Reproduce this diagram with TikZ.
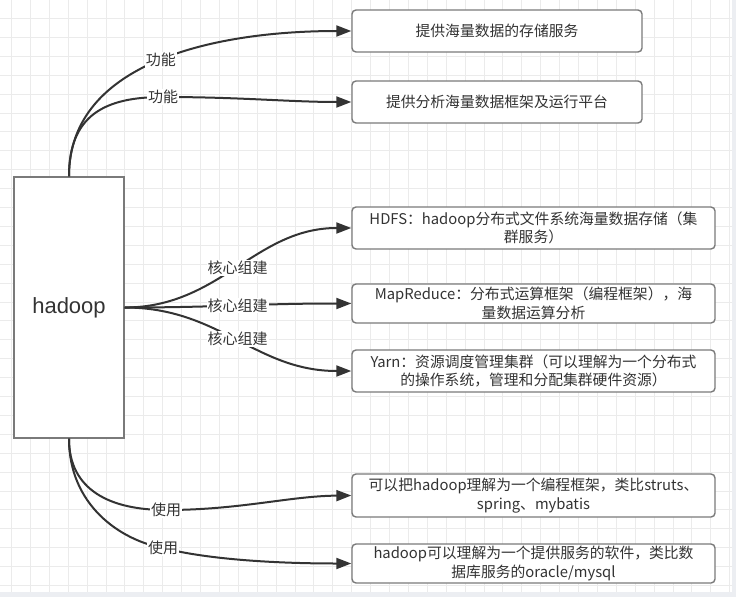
\documentclass[tikz,border=0pt]{standalone}
\usepackage{fontspec}
\setmainfont{Noto Sans CJK SC}
\newfontfamily\latinfont{Liberation Sans}
\usetikzlibrary{arrows.meta}

\definecolor{gridgray}{HTML}{EBEBEB}
\definecolor{boxgray}{HTML}{7A7A7A}
\definecolor{inkgray}{HTML}{333333}
\definecolor{edgegray}{HTML}{ECEEF2}

\begin{document}
\begin{tikzpicture}[x=1pt,y=-1pt,>={Triangle[length=15pt,width=11pt]},
  mainbox/.style={draw=boxgray,line width=1.4pt,fill=white,inner sep=0pt,
    minimum width=110pt,minimum height=261pt,text=inkgray,
    font=\latinfont\fontsize{22}{26}\selectfont},
  infobox/.style={draw=boxgray,line width=1.4pt,fill=white,rounded corners=4pt,
    inner sep=0pt,align=center,text=inkgray,
    font=\fontsize{14.8}{18.5}\selectfont},
  conn/.style={->,draw=inkgray,line width=2pt},
  lbl/.style={fill=white,inner sep=1pt,text=inkgray,font=\fontsize{15}{17}\selectfont}]

\useasboundingbox (0,0) rectangle (736,597);

% The grid
\fill[white] (0,0) rectangle (736,597);
\foreach \gx in {0,...,38}
{
	\draw[gridgray,line width=1pt] (11.5+\gx*18.9,0) -- (11.5+\gx*18.9,597);
}
\foreach \gy in {0,...,31}
{
	\draw[gridgray,line width=1pt] (0,18.5+\gy*18.9) -- (736,18.5+\gy*18.9);
}
\fill[edgegray] (0,592) rectangle (736,597);
\fill[edgegray] (732,0) rectangle (736,597);

% The boxes
\node[mainbox] (hadoop) at (69,307.5) {hadoop};

\node[infobox,minimum width=290pt,minimum height=42pt] (store) at (497,31) {提供海量数据的存储服务};
\node[infobox,minimum width=290pt,minimum height=42pt] (analyse) at (497,102) {提供分析海量数据框架及运行平台};

\node[infobox,minimum width=363pt,minimum height=42pt] (hdfs) at (533.5,228)
	{HDFS：hadoop分布式文件系统海量数据存储（集\\群服务）};
\node[infobox,minimum width=363pt,minimum height=39pt] (mr) at (533.5,303.5)
	{MapReduce：分布式运算框架（编程框架），海\\量数据运算分析};
\node[infobox,minimum width=363pt,minimum height=42pt] (yarn) at (533.5,371)
	{Yarn：资源调度管理集群（可以理解为一个分布式\\的操作系统，管理和分配集群硬件资源）};

\node[infobox,minimum width=363pt,minimum height=43pt] (frame) at (533.5,495.5)
	{可以把hadoop理解为一个编程框架，类比struts、\\spring、mybatis};
\node[infobox,minimum width=363pt,minimum height=39pt] (soft) at (533.5,563.5)
	{hadoop可以理解为一个提供服务的软件，类比数\\据库服务的oracle/mysql};

% The functions
\draw[conn] (hadoop.north) .. controls (69,60) and (220,31) .. node[lbl,pos=0.5] {功能} (store.west);
\draw[conn] (hadoop.north) .. controls (69,115) and (105,97) .. (163,97) node[lbl] {功能}
	.. controls (240,97) and (290,102) .. (analyse.west);

% The core parts
\draw[conn] (hadoop.east) .. controls (220,307.5) and (255,228) .. node[lbl,pos=0.5] {核心组建} (hdfs.west);
\draw[conn] (hadoop.east) .. controls (220,307.5) and (255,303.5) .. node[lbl,pos=0.5] {核心组建} (mr.west);
\draw[conn] (hadoop.east) .. controls (220,307.5) and (255,371) .. node[lbl,pos=0.5] {核心组建} (yarn.west);

% The usage
\draw[conn] (hadoop.south) .. controls (69,490) and (110,510) .. (166,510) node[lbl] {使用}
	.. controls (240,510) and (290,496) .. (frame.west);
\draw[conn] (hadoop.south) .. controls (69,505) and (120,540) .. (163,548) node[lbl] {使用}
	.. controls (210,560) and (280,563.5) .. (soft.west);

\end{tikzpicture}
\end{document}
